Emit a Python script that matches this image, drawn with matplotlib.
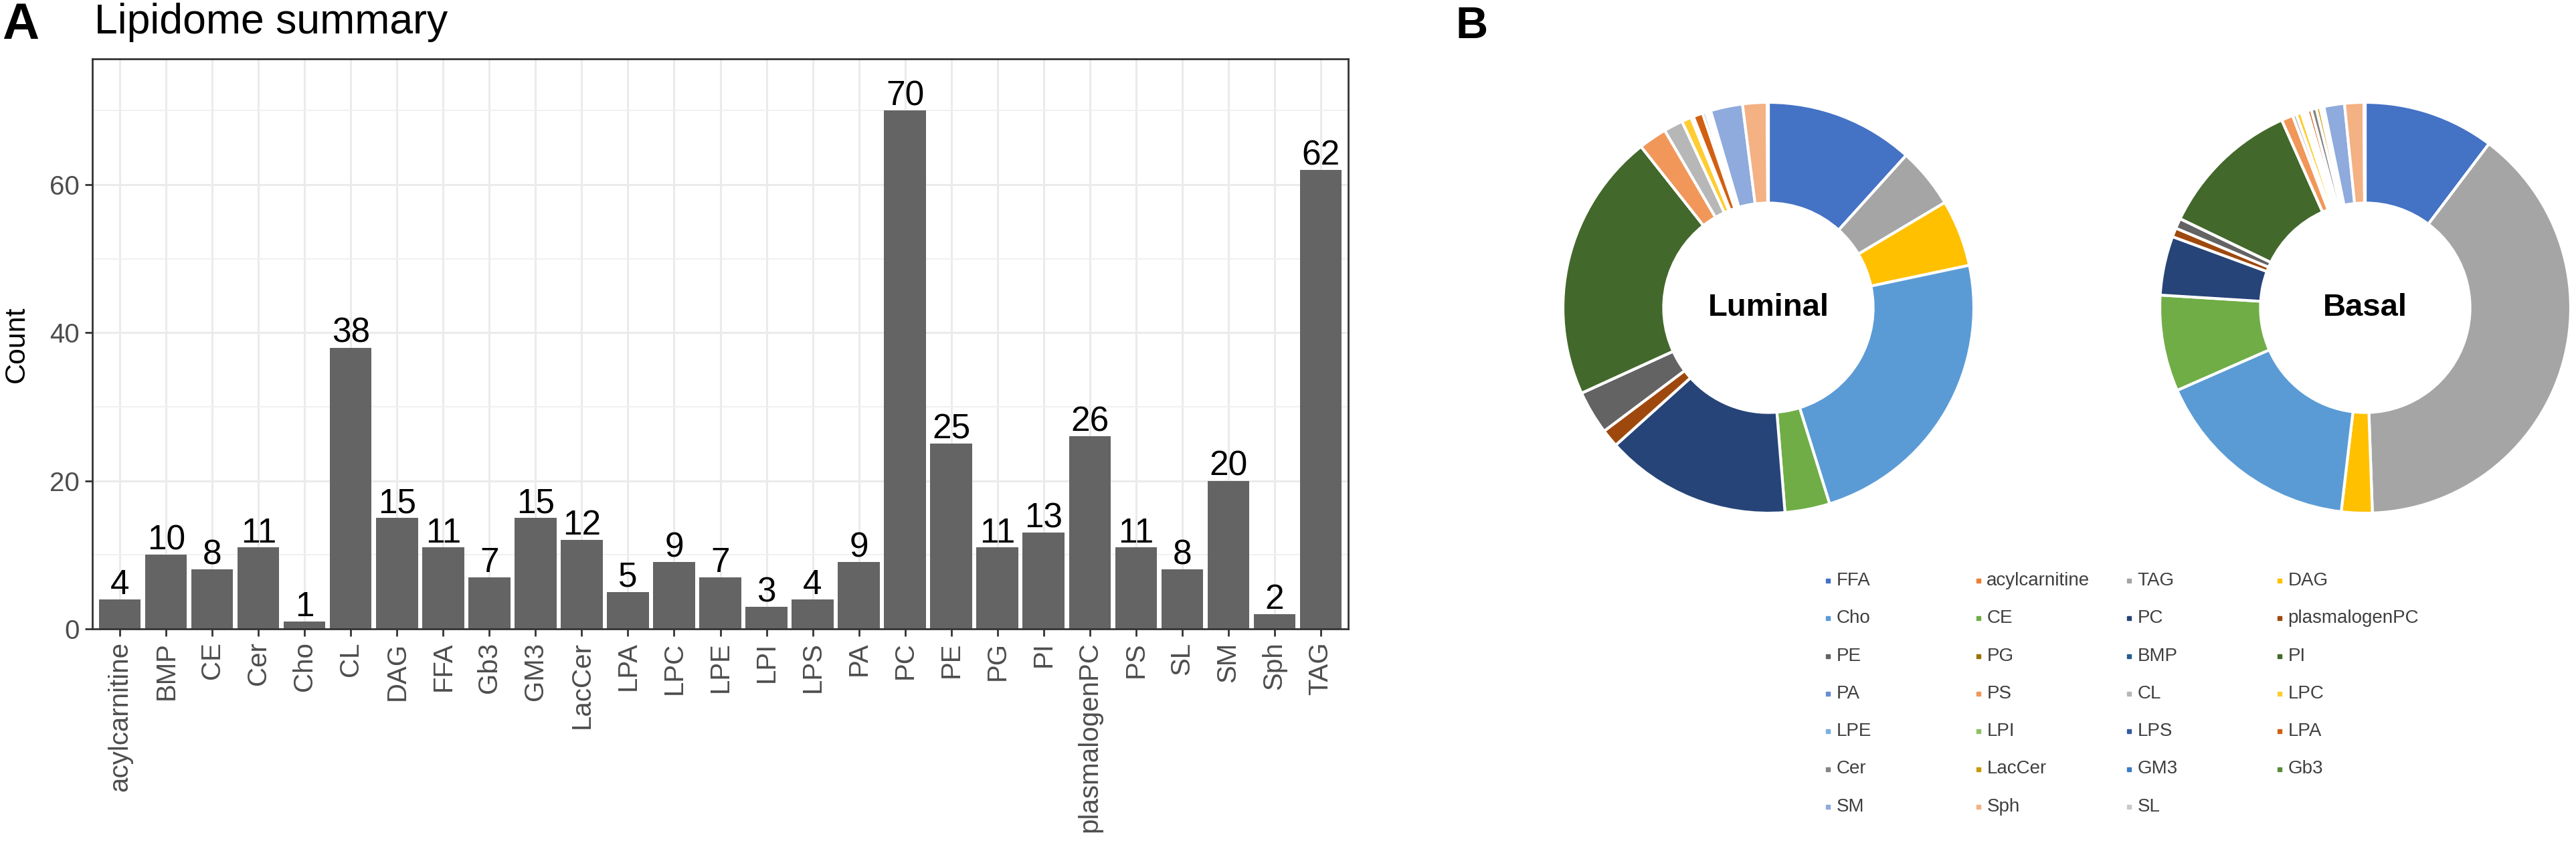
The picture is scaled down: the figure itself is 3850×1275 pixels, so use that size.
import matplotlib
matplotlib.use("Agg")
import matplotlib.pyplot as plt

plt.rcParams['font.family'] = ['Liberation Sans', 'DejaVu Sans']

W, H = 3850, 1275

# ---- panel A data: lipid class counts
classes = ["acylcarnitine", "BMP", "CE", "Cer", "Cho", "CL", "DAG", "FFA", "Gb3",
           "GM3", "LacCer", "LPA", "LPC", "LPE", "LPI", "LPS", "PA", "PC", "PE",
           "PG", "PI", "plasmalogenPC", "PS", "SL", "SM", "Sph", "TAG"]
counts = [4, 10, 8, 11, 1, 38, 15, 11, 7, 15, 12, 5, 9, 7, 3, 4, 9, 70, 25, 11,
          13, 26, 11, 8, 20, 2, 62]

# ---- panel B data: composition (%) per subtype, legend order
pie_labels = ["FFA", "acylcarnitine", "TAG", "DAG", "Cho", "CE", "PC", "plasmalogenPC",
              "PE", "PG", "BMP", "PI", "PA", "PS", "CL", "LPC", "LPE", "LPI", "LPS",
              "LPA", "Cer", "LacCer", "GM3", "Gb3", "SM", "Sph", "SL"]
luminal = [11.6, 0, 4.7, 5.2, 23.3, 3.5, 14.5, 1.4, 3.4, 0, 0, 21.0, 0, 2.2, 1.5,
           0.75, 0.1, 0.05, 0.05, 0.75, 0.25, 0.1, 0.2, 0.1, 2.5, 1.9, 0.1]
basal = [10.2, 0, 38.8, 2.4, 16.4, 7.5, 4.6, 0.7, 0.8, 0, 0, 11.1, 0, 0.9, 0.3,
         0.4, 0.2, 0.2, 0.1, 0.3, 0.4, 0.3, 0.2, 0.1, 1.6, 1.5, 0.1]
pie_colors = ["#4472C4", "#ED7D31", "#A5A5A5", "#FFC000", "#5B9BD5", "#70AD47",
              "#264478", "#9E480E", "#636363", "#997300", "#255E91", "#43682B",
              "#698ED0", "#F1975A", "#B7B7B7", "#FFCD33", "#7CAFDD", "#8CC168",
              "#335AA1", "#D26012", "#848484", "#CC9A00", "#3C7DC4", "#5A8A39",
              "#8FAADC", "#F4B183", "#C9C9C9"]


def px_axes(fig, left, top, width, height):
    return fig.add_axes([left / W, 1 - (top + height) / H, width / W, height / H])


fig = plt.figure(figsize=(W / 100, H / 100), dpi=100)

# ---------------- panel A: bar chart
ax = px_axes(fig, 138, 88, 2015 - 138, 940 - 88)
x = list(range(len(classes)))
ax.bar(x, counts, width=0.9, color="#646464", zorder=2)
for i, v in zip(x, counts):
    ax.text(i, v + 0.7, str(v), ha="center", va="baseline", fontsize=37, zorder=3)

ax.set_xlim(-0.6, len(classes) - 0.4)
ax.set_ylim(0, 77)
ax.set_yticks([0, 20, 40, 60])
ax.set_yticks([10, 30, 50, 70], minor=True)
ax.set_xticks(x)
ax.set_xticklabels(classes, rotation=90)
ax.grid(which="major", color="#EBEBEB", lw=2.2, zorder=0)
ax.grid(which="minor", axis="y", color="#F0F0F0", lw=1.4, zorder=0)
ax.set_axisbelow(True)
ax.tick_params(which="major", length=8, width=2, color="#333333",
               labelcolor="#4D4D4D", labelsize=29, pad=6)
ax.tick_params(which="minor", length=0)
for s in ax.spines.values():
    s.set_color("#333333")
    s.set_linewidth(2)

fig.text(25 / W, 1 - 515 / H, "Count", rotation=90, fontsize=31,
         ha="center", va="center")
fig.text(141 / W, 1 - 50 / H, "Lipidome summary", fontsize=45,
         ha="left", va="baseline")
fig.text(3 / W, 1 - 58 / H, "A", fontsize=55, weight="bold", va="baseline")
fig.text(2175 / W, 1 - 57 / H, "B", fontsize=48, weight="bold", va="baseline")

# ---------------- panel B: donuts
R = 307.0
for cx, vals, name in [(2643, luminal, "Luminal"), (3535, basal, "Basal")]:
    pax = px_axes(fig, cx - 350, 460 - 350, 700, 700)
    pax.pie(vals, colors=pie_colors, startangle=90, counterclock=False,
            radius=1.0,
            wedgeprops=dict(width=0.49, edgecolor="white", linewidth=3))
    lim = 350 / R
    pax.set_xlim(-lim, lim)
    pax.set_ylim(-lim, lim)
    pax.set_aspect("equal")
    pax.axis("off")
    pax.text(0, 0, name, ha="center", va="center", fontsize=34, weight="bold")

# ---------------- legend for the donuts (4 columns)
ncol = 4
col_w, row_h = 225.0, 56.3
lax = px_axes(fig, 2700, 840, 950, 400)
lax.set_xlim(-32 / col_w, (950 - 32) / col_w)
lax.set_ylim((400 - 28) / row_h, -28 / row_h)
lax.axis("off")
for k, (lab, col) in enumerate(zip(pie_labels, pie_colors)):
    c, r = k % ncol, k // ncol
    lax.plot(c, r, marker="s", ms=5, color=col, ls="none")
    lax.text(c + 0.055, r, lab, ha="left", va="center", fontsize=20,
             color="#3F3F3F")

fig.savefig("out.png", dpi=100)
